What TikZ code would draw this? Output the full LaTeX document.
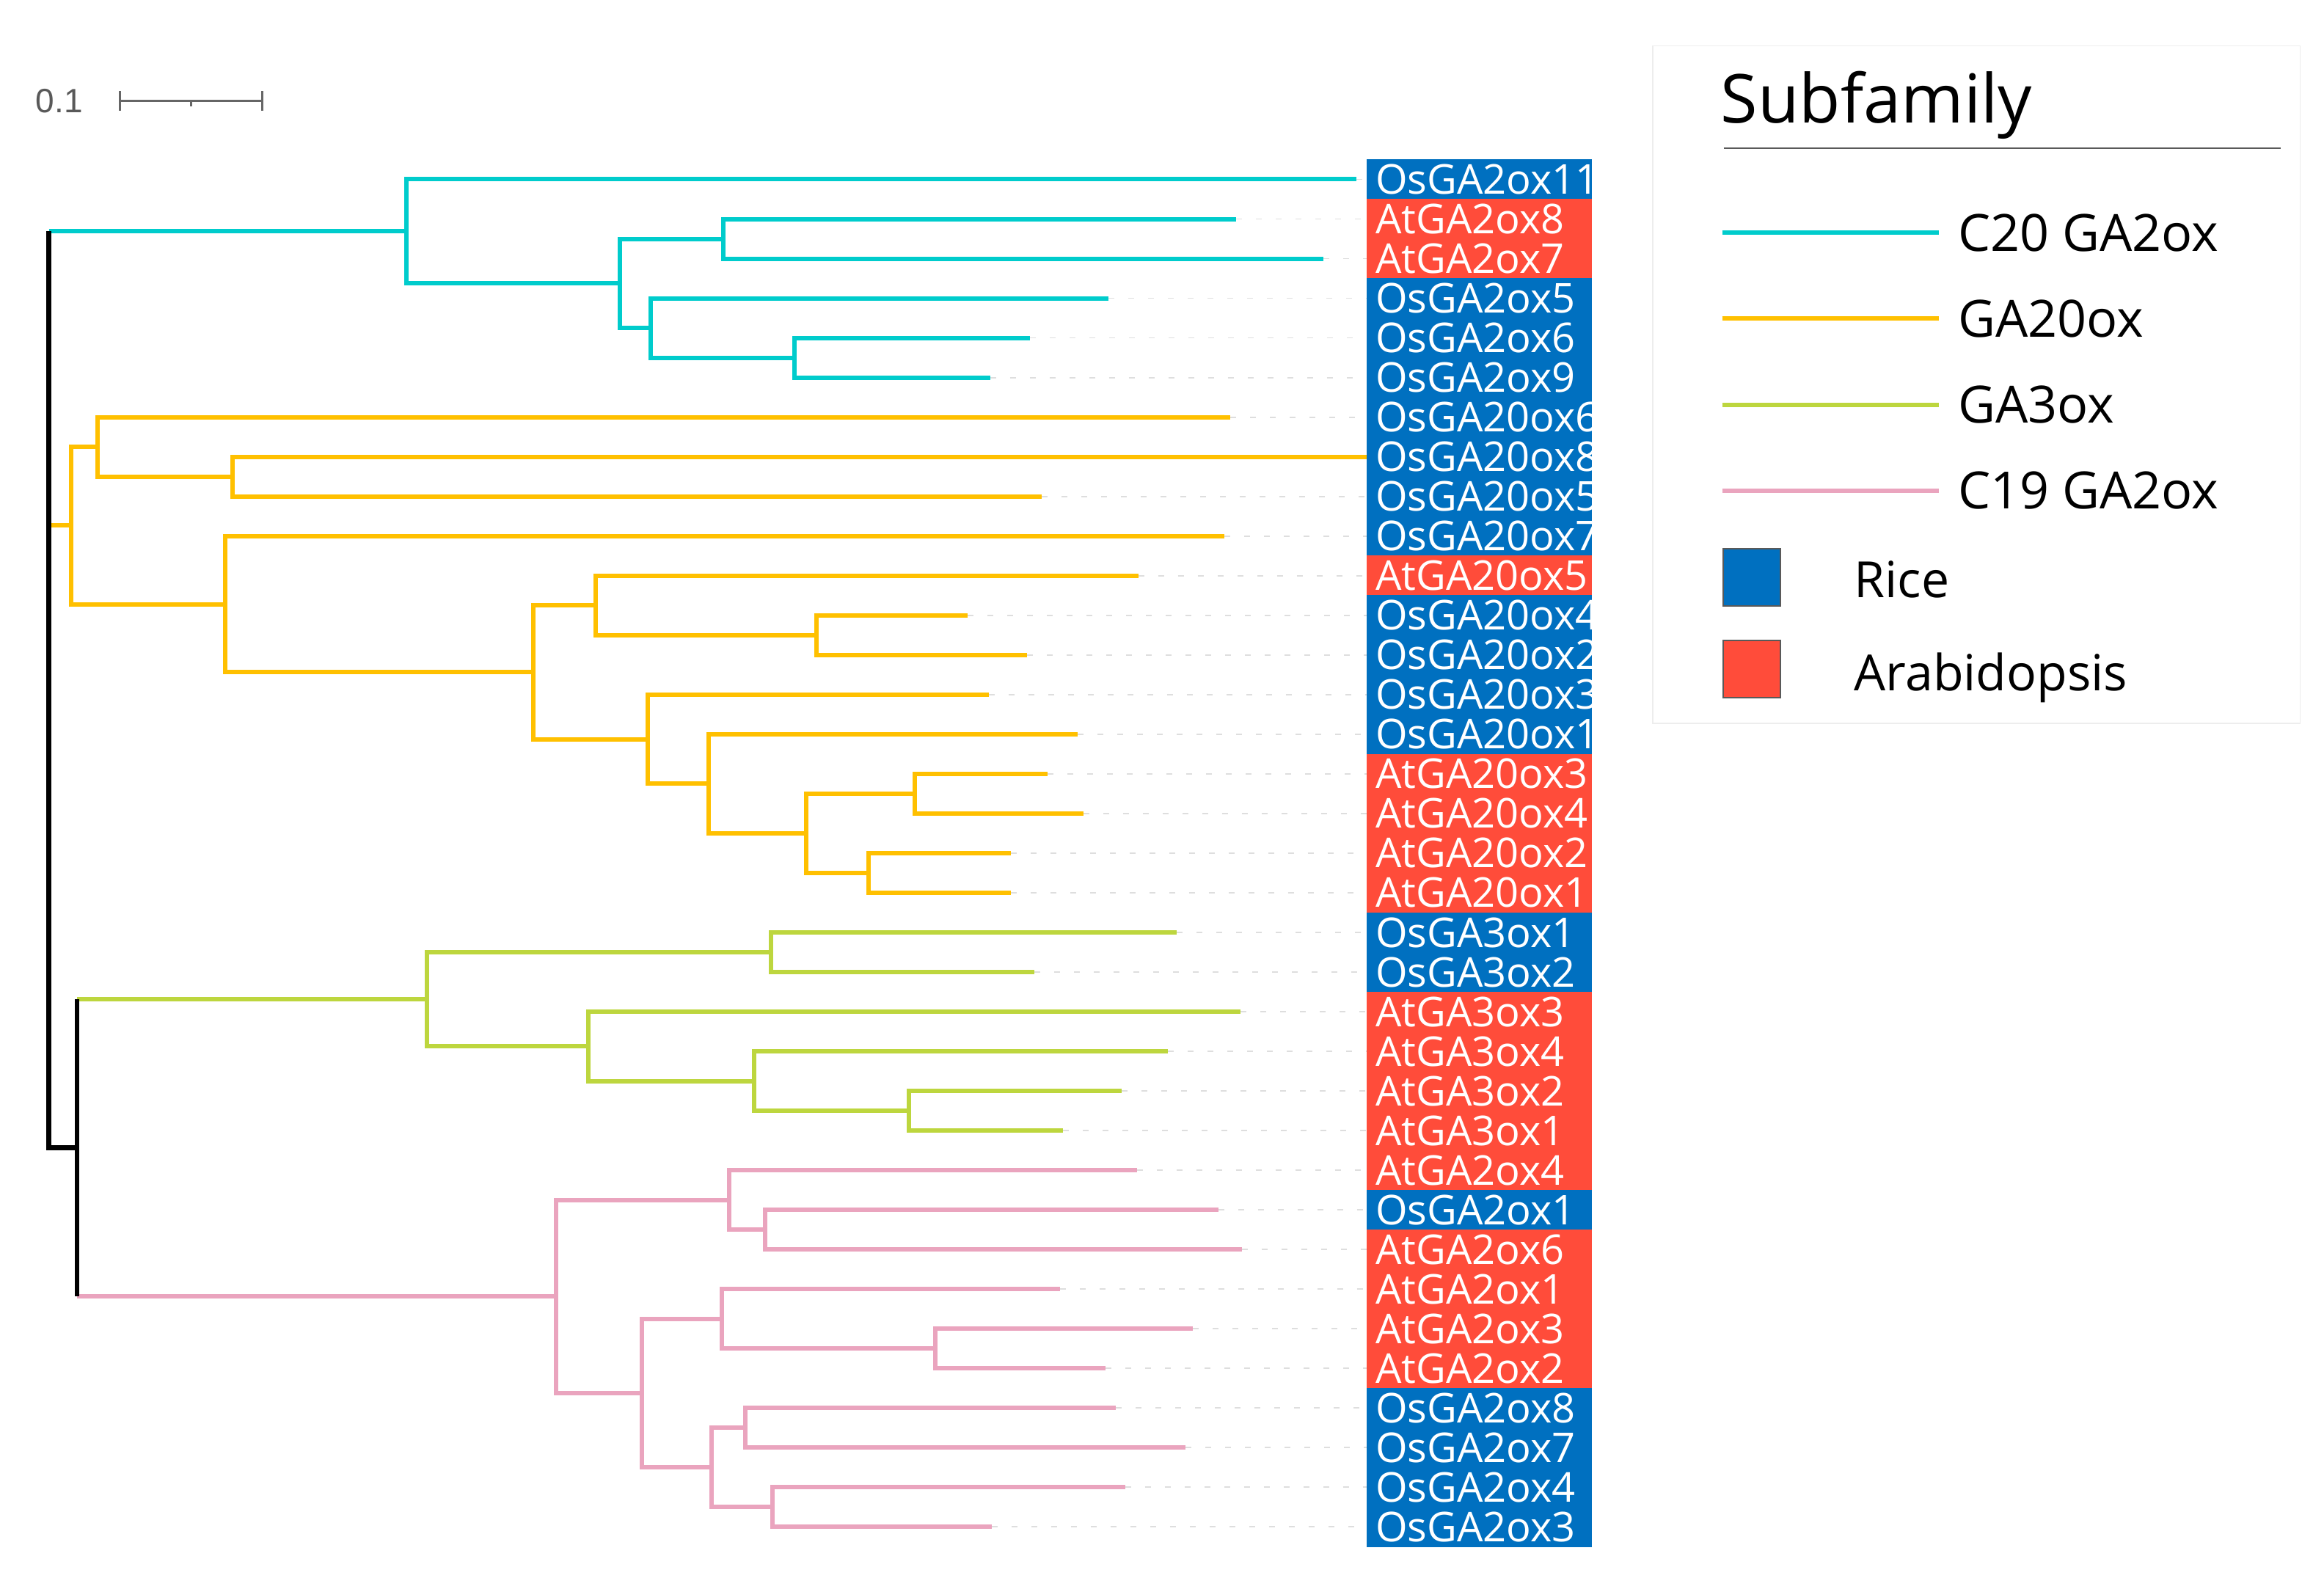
\documentclass[tikz,border=0pt]{standalone}
\usepackage{fontspec}
\setmainfont{Open Sans}
\newfontfamily\barfont{Liberation Sans}
\usetikzlibrary{positioning, calc}
\definecolor{cCtwenty}{RGB}{0,204,204}
\definecolor{cGAtwenty}{RGB}{255,192,0}
\definecolor{cGAthree}{RGB}{189,214,62}
\definecolor{cCnineteen}{RGB}{234,164,190}
\definecolor{rice}{RGB}{0,112,192}
\definecolor{arab}{RGB}{255,76,58}
\tikzset{
  br/.style={line width=6pt},
  leader/.style={black!13, line width=1.8pt, dash pattern=on 8pt off 19pt},
  gene/.style={anchor=west, text=white, inner xsep=12pt, inner ysep=0pt,
    text width=320pt, align=left, minimum height=54.6pt,
    font=\fontsize{56}{56}\selectfont},
  keylab/.style={anchor=west, inner sep=0pt, font=\fontsize{70}{70}\selectfont},
  swatch/.style={draw=black!65, line width=1.5pt, minimum size=78pt, inner sep=0pt},
}
\def\genes{OsGA2ox11/915/rice, AtGA2ox8/834/arab, AtGA2ox7/893/arab,
  OsGA2ox5/748/rice, OsGA2ox6/695/rice, OsGA2ox9/668/rice,
  OsGA20ox6/830/rice, OsGA20ox8/922/rice, OsGA20ox5/703/rice, OsGA20ox7/826/rice,
  AtGA20ox5/768/arab, OsGA20ox4/653/rice, OsGA20ox2/693/rice, OsGA20ox3/667/rice,
  OsGA20ox1/727/rice, AtGA20ox3/707/arab, AtGA20ox4/731/arab, AtGA20ox2/682/arab,
  AtGA20ox1/682/arab, OsGA3ox1/794/rice, OsGA3ox2/698/rice, AtGA3ox3/837/arab,
  AtGA3ox4/788/arab, AtGA3ox2/757/arab, AtGA3ox1/717/arab, AtGA2ox4/767/arab,
  OsGA2ox1/822/rice, AtGA2ox6/838/arab, AtGA2ox1/715/arab, AtGA2ox3/805/arab,
  AtGA2ox2/746/arab, OsGA2ox8/753/rice, OsGA2ox7/800/rice, OsGA2ox4/759/rice,
  OsGA2ox3/669/rice}
\begin{document}
\begin{tikzpicture}[x=2.0204pt, y=-2.0204pt]
\useasboundingbox (0,0) rectangle (1568,1072);

\node[font=\barfont\fontsize{46}{46}\selectfont, text=black!65, inner sep=0pt] (scl) at (40,68) {0.1};
\coordinate (sb0) at (81,68);
\coordinate (sb1) at (177,68);
\draw[black!60, line width=3pt] (sb0) -- (sb1);
\draw[black!60, line width=3pt] ($(sb0)+(0,-6.5)$) -- ($(sb0)+(0,6.5)$);
\draw[black!60, line width=3pt] ($(sb1)+(0,-6.5)$) -- ($(sb1)+(0,6.5)$);
\draw[black!60, line width=2.5pt] ($(sb0)!0.5!(sb1)$) -- ++(0,4);

\foreach \g/\t/\s [count=\i from 0] in \genes {
  \coordinate (L\i) at (\t,{121+26.74*\i});
  \draw[leader] (L\i) -- (922,{121+26.74*\i});
}
\begin{scope}
\clip (922,100) rectangle (1074,1060);
\foreach \g/\t/\s [count=\i from 0] in \genes
  \node[gene, fill=\s] (G\i) at (922,{121+26.74*\i}) {\g};
\end{scope}

\coordinate (R) at (33,465);
\coordinate (A) at (52,774.46);
\coordinate (C1) at (274,156.1);
\coordinate (C2) at (418,191.2);
\coordinate (C3) at (488,161.11);
\coordinate (C4) at (439,221.28);
\coordinate (C5) at (536,241.33);
\coordinate (Y1) at (48,354.56);
\coordinate (Y2) at (66,301.5);
\coordinate (Y2b) at (157,321.55);
\coordinate (Y3) at (152,407.62);
\coordinate (Y4) at (360,453.58);
\coordinate (Y5) at (402,408.46);
\coordinate (Y5b) at (551,428.51);
\coordinate (Y6) at (437,498.7);
\coordinate (Y7) at (478,528.79);
\coordinate (Y8) at (544,562.21);
\coordinate (Y9) at (617,535.47);
\coordinate (Y10) at (586,588.95);
\coordinate (G1) at (288,674.18);
\coordinate (G2) at (520,642.43);
\coordinate (G3) at (397,705.94);
\coordinate (G4) at (509,729.33);
\coordinate (G5) at (613,749.39);
\coordinate (P1) at (375,874.74);
\coordinate (P2) at (492,809.56);
\coordinate (P2b) at (516,829.61);
\coordinate (P3) at (433,939.91);
\coordinate (P4) at (487,889.78);
\coordinate (P4b) at (631,909.83);
\coordinate (P5) at (480,990.05);
\coordinate (P6) at (503,963.31);
\coordinate (P7) at (521,1016.79);

\draw[br,cCtwenty] (R |- C1) -- (C1);
\draw[br,cGAtwenty] (R |- Y1) -- (Y1);
\draw[br,cGAthree] (A |- G1) -- (G1);
\draw[br,cCnineteen] (A |- P1) -- (P1);
\foreach \p/\c in {C1/L0, C1/C2, C2/C3, C2/C4, C3/L1, C3/L2, C4/L3, C4/C5, C5/L4, C5/L5}
  \draw[br,cCtwenty] (\p) |- (\c);
\foreach \p/\c in {Y1/Y2, Y1/Y3, Y2/L6, Y2/Y2b, Y2b/L7, Y2b/L8, Y3/L9, Y3/Y4,
  Y4/Y5, Y4/Y6, Y5/L10, Y5/Y5b, Y5b/L11, Y5b/L12, Y6/L13, Y6/Y7, Y7/L14, Y7/Y8,
  Y8/Y9, Y8/Y10, Y9/L15, Y9/L16, Y10/L17, Y10/L18}
  \draw[br,cGAtwenty] (\p) |- (\c);
\foreach \p/\c in {G1/G2, G1/G3, G2/L19, G2/L20, G3/L21, G3/G4, G4/L22, G4/G5, G5/L23, G5/L24}
  \draw[br,cGAthree] (\p) |- (\c);
\foreach \p/\c in {P1/P2, P1/P3, P2/L25, P2/P2b, P2b/L26, P2b/L27, P3/P4, P3/P5,
  P4/L28, P4/P4b, P4b/L29, P4b/L30, P5/P6, P5/P7, P6/L31, P6/L32, P7/L33, P7/L34}
  \draw[br,cCnineteen] (\p) |- (\c);
\draw[br, line width=6.5pt] (R |- C1) |- (A);
\draw[br, line width=6.5pt] (A |- G1) -- (A |- P1);

\draw[black!7, line width=1.5pt] (1115,31) rectangle (1552,488);
\node[anchor=base west, inner sep=0pt, font=\fontsize{92}{92}\selectfont] (title) at (1161,83) {Subfamily};
\draw[black!65, line width=1.8pt] (1163,100) -- (1539,100);
\foreach \y/\c/\t [count=\k] in {157/cCtwenty/C20 GA2ox, 215/cGAtwenty/GA20ox,
  273/cGAthree/GA3ox, 331/cCnineteen/C19 GA2ox} {
  \coordinate (key\k) at (1162,\y);
  \node[keylab] (keylab\k) at (1321,\y) {\t};
  \draw[\c, line width=6pt] (key\k) -- ([xshift=-26pt]keylab\k.west);
}
\node[swatch, fill=rice] (sqrice) at (1182,389.5) {};
\node[swatch, fill=arab] (sqarab) at (1182,451.5) {};
\node[anchor=base west, inner sep=0pt, font=\fontsize{68}{68}\selectfont] (lrice) at (1251,403) {Rice};
\node[anchor=base west, inner sep=0pt, font=\fontsize{68}{68}\selectfont] (larab) at (1251,466) {Arabidopsis};
\end{tikzpicture}
\end{document}
